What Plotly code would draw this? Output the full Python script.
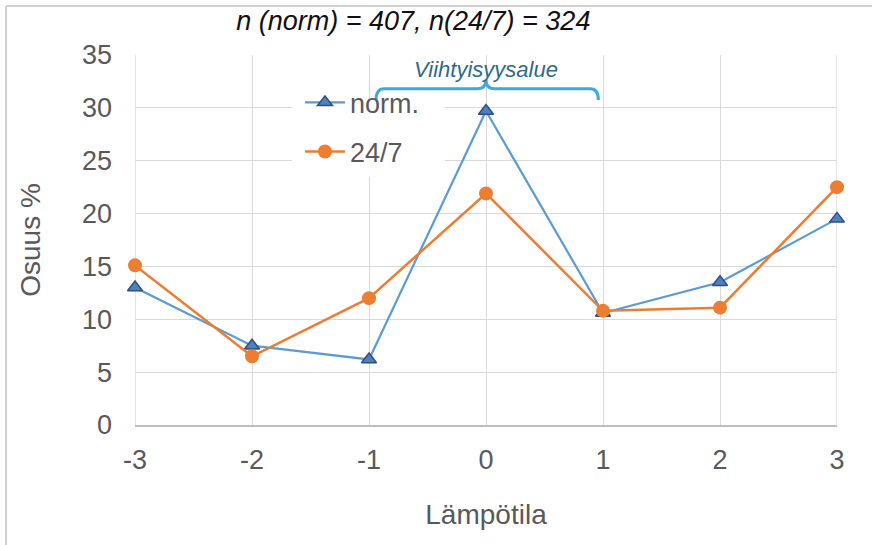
import plotly.graph_objects as go

x_vals = [-3, -2, -1, 0, 1, 2, 3]
x_labels = ["-3", "-2", "-1", "0", "1", "2", "3"]
norm_vals = [13.0, 7.5, 6.2, 29.7, 10.6, 13.5, 19.5]
h247_vals = [15.1, 6.5, 12.0, 21.9, 10.8, 11.1, 22.5]
y_ticks = [0, 5, 10, 15, 20, 25, 30, 35]

FONT = "Liberation Sans, Arial, sans-serif"
GREY = "#595959"

fig = go.Figure()
fig.add_trace(go.Scatter(
    x=x_vals, y=norm_vals, name="norm.", mode="lines+markers",
    line=dict(color="#5B9BD5", width=2.2),
    marker=dict(symbol="triangle-up", size=13, color="#4F81BD",
                line=dict(color="#2F4F7F", width=1.5)),
    legendgroup="a", cliponaxis=False))
fig.add_trace(go.Scatter(
    x=x_vals, y=h247_vals, name="24/7", mode="lines+markers",
    line=dict(color="#ED7D31", width=2.5),
    marker=dict(symbol="circle", size=14, color="#ED7D31"),
    legendgroup="b", cliponaxis=False))

fig.update_layout(
    width=872, height=545,
    margin=dict(l=135, r=35, t=55, b=120),
    paper_bgcolor="white", plot_bgcolor="white",
    font=dict(family=FONT, size=27, color=GREY),
    title=dict(text="<i>n (norm) = 407, n(24/7) = 324</i>",
               x=0.474, xanchor="center", y=1 - 21 / 545, yanchor="middle",
               font=dict(family=FONT, size=27, color="#111111")),
    legend=dict(x=0.235, y=0.937, xanchor="left", yanchor="top",
                bgcolor="rgba(0,0,0,0)", font=dict(family=FONT, size=27, color=GREY),
                tracegroupgap=11, itemwidth=40),
    showlegend=True,
)
fig.update_xaxes(
    range=[-3, 3], tickvals=x_vals, ticktext=x_labels, showgrid=True, gridcolor="#D9D9D9",
    gridwidth=1.3, zeroline=False, showline=True, linecolor="#BFBFBF", linewidth=1.5,
    mirror=False, ticks="", ticklabelstandoff=10,
    tickfont=dict(family=FONT, size=27, color=GREY),
    title=dict(text="Lämpötila", font=dict(family=FONT, size=28, color=GREY), standoff=30),
)
fig.update_yaxes(
    range=[0, 35], tickvals=y_ticks, showgrid=True, gridcolor="#D9D9D9",
    gridwidth=1.3, zeroline=False, showline=False, ticks="", ticklabelstandoff=22,
    tickfont=dict(family=FONT, size=27, color=GREY),
    title=dict(text="Osuus %", font=dict(family=FONT, size=28, color=GREY), standoff=33),
)
# plot-area box edges
fig.add_shape(type="line", xref="x", yref="paper", x0=-3, x1=-3, y0=0, y1=1,
              line=dict(color="#D9D9D9", width=1.3), layer="below")
fig.add_shape(type="line", xref="x", yref="paper", x0=3, x1=3, y0=0, y1=1,
              line=dict(color="#D9D9D9", width=1.3), layer="below")

# white legend background (above grid, below traces)
fig.add_shape(type="rect", xref="x", yref="y", x0=-1.66, x1=-0.35, y0=23.5, y1=30.9,
              fillcolor="white", line=dict(width=0), layer="between")

# outer frame (top and left border of the picture)
fig.add_shape(type="line", xref="paper", yref="paper",
              x0=(6 - 135) / 702, x1=(872 - 135) / 702 + 0.05,
              y0=(425 - 6) / 370, y1=(425 - 6) / 370,
              line=dict(color="#D0D0D0", width=2))
fig.add_shape(type="line", xref="paper", yref="paper",
              x0=(6 - 135) / 702, x1=(6 - 135) / 702,
              y0=(425 - 6) / 370, y1=-0.4,
              line=dict(color="#D0D0D0", width=2))

# bracket "Viihtyisyysalue"
yb, ye, yt = 31.8, 30.75, 32.7
path = (f"M -0.94,{ye} Q -0.94,{yb} -0.87,{yb} L -0.07,{yb} Q 0,{yb} 0,{yt} "
        f"Q 0,{yb} 0.07,{yb} L 0.89,{yb} Q 0.96,{yb} 0.96,{ye}")
fig.add_shape(type="path", xref="x", yref="y", path=path,
              line=dict(color="#3FA9DC", width=3))
fig.add_annotation(x=0, y=33.6, xref="x", yref="y", text="<i>Viihtyisyysalue</i>",
                   showarrow=False, yanchor="middle",
                   font=dict(family=FONT, size=22, color="#2E6A8A"))

fig.write_html("out.html")
